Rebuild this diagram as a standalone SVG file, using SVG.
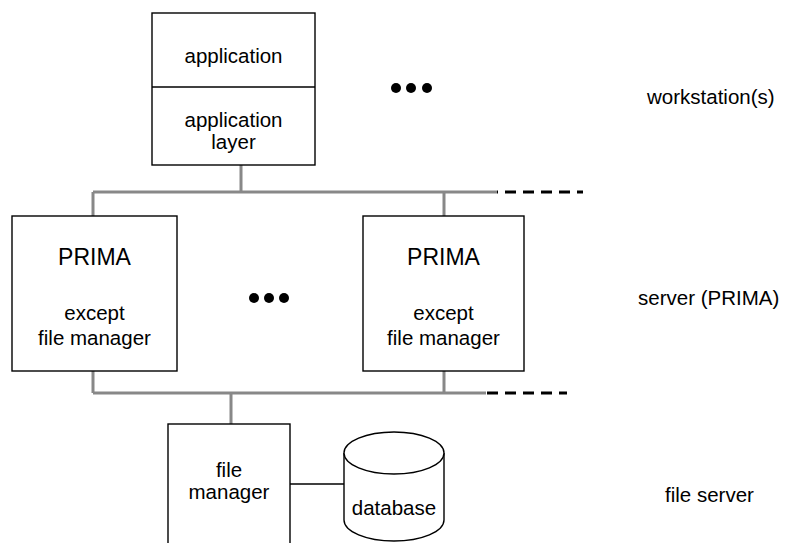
<svg xmlns="http://www.w3.org/2000/svg" width="787" height="543" viewBox="0 0 787 543">
<style>
.box{fill:#fff;stroke:#000;stroke-width:1.4}
.bus{stroke:#888;stroke-width:3;fill:none}
.dash{stroke:#000;stroke-width:3.2;fill:none;stroke-dasharray:11 7}
.ln{stroke:#000;stroke-width:1.4;fill:none}
text{font-family:"Liberation Sans",Arial,sans-serif;font-size:20.5px;fill:#000;text-anchor:middle}
.big{font-size:23px}
.lbl{text-anchor:start}
</style>
<rect width="787" height="543" fill="#fff"/>
<g id="connectors">
<path class="bus" d="M93,192 H497 M93,393 H486 M241,165 V192 M93,192 V216 M444,192 V216 M93,371 V393 M444,371 V393 M231,393 V424"/>
<path class="dash" stroke-dashoffset="10" d="M497,192 H583"/>
<path class="dash" d="M487,393 H567"/>
<path class="ln" d="M290,484 H344"/>
</g>
<g id="app">
<rect class="box" x="152" y="13" width="163" height="152"/>
<line class="ln" x1="152" y1="87" x2="315" y2="87"/>
<text x="233.5" y="63">application</text>
<text x="233.5" y="127">application</text>
<text x="233.5" y="149">layer</text>
</g>
<g id="prima1">
<rect class="box" x="12" y="216" width="165" height="155"/>
<text class="big" x="94.5" y="265">PRIMA</text>
<text x="94.5" y="320">except</text>
<text x="94.5" y="345">file manager</text>
</g>
<g id="prima2">
<rect class="box" x="363" y="216" width="161" height="155"/>
<text class="big" x="443.5" y="265">PRIMA</text>
<text x="443.5" y="320">except</text>
<text x="443.5" y="345">file manager</text>
</g>
<g id="filemanager">
<rect class="box" x="168" y="424" width="122" height="130"/>
<text x="229" y="477">file</text>
<text x="229" y="499">manager</text>
</g>
<g id="database">
<path class="box" d="M344,453 V520 A50,21 0 0 0 444,520 V453"/>
<ellipse class="box" cx="394" cy="453" rx="50" ry="21"/>
<text x="394" y="515">database</text>
</g>
<g id="dots">
<circle cx="396" cy="88" r="5"/><circle cx="411" cy="88" r="5"/><circle cx="427" cy="88" r="5"/>
<circle cx="254" cy="298" r="5"/><circle cx="269" cy="298" r="5"/><circle cx="284" cy="298" r="5"/>
</g>
<g id="labels">
<text class="lbl" x="647" y="104">workstation(s)</text>
<text class="lbl" x="638" y="305">server (PRIMA)</text>
<text class="lbl" x="665" y="502">file server</text>
</g>
</svg>
